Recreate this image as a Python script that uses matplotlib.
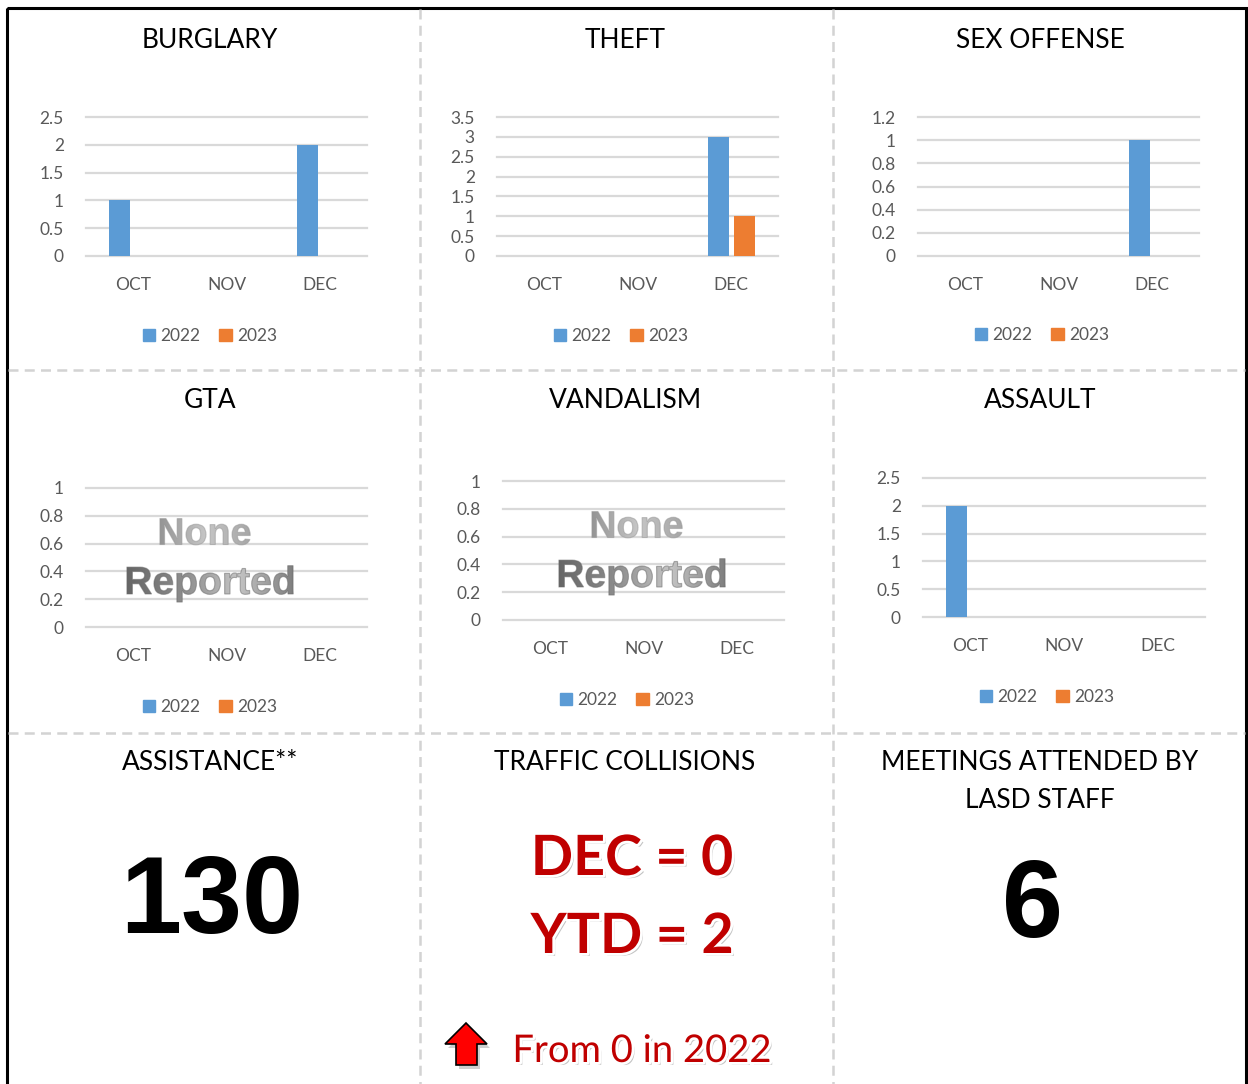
import matplotlib
matplotlib.use("Agg")
import numpy as np
import matplotlib.pyplot as plt
import matplotlib.patheffects as pe
from matplotlib.patches import Patch, Rectangle, Polygon, PathPatch
from matplotlib.ticker import FuncFormatter, MultipleLocator
from matplotlib.textpath import TextPath
from matplotlib.font_manager import FontProperties
from matplotlib.transforms import Affine2D
from matplotlib.colors import LinearSegmentedColormap

# Daten
months = ["OCT", "NOV", "DEC"]
years = ["2022", "2023"]

burglary_2022 = [1, 0, 2]
burglary_2023 = [0, 0, 0]
theft_2022 = [0, 0, 3]
theft_2023 = [0, 0, 1]
sex_2022 = [0, 0, 1]
sex_2023 = [0, 0, 0]
gta_2022 = [0, 0, 0]
gta_2023 = [0, 0, 0]
vandal_2022 = [0, 0, 0]
vandal_2023 = [0, 0, 0]
assault_2022 = [2, 0, 0]
assault_2023 = [0, 0, 0]

assistance = "130"
meetings = "6"
traffic_dec = "DEC = 0"
traffic_ytd = "YTD = 2"
traffic_note = "From 0 in 2022"

W, H = 1248, 1084
C22, C23 = "#5B9BD5", "#ED7D31"
GRAY = "#595959"
FONT = "Lato"

fig = plt.figure(figsize=(W / 100, H / 100), dpi=100)


def pixel_axes(z):
    a = fig.add_axes([0, 0, 1, 1], zorder=z)
    a.axis("off")
    a.patch.set_alpha(0)
    return a


bg = pixel_axes(-1)   # Rahmen, Texte
fg = pixel_axes(10)   # "None Reported" über den Gitterlinien

# Rahmen und gestrichelte Trennlinien
bg.add_patch(Rectangle((7, 8), 1239, 1090, fill=False, lw=2.2, ec="black"))
dash = dict(color="#d3d3d3", lw=1.8, ls=(0, (4, 2.5)))
for x in (420, 833):
    bg.plot([x, x], [9, H], **dash)
for y in (370, 733):
    bg.plot([8, 1245], [y, y], **dash)


def px_axes(x0, y0, x1, y1):
    return fig.add_axes([x0 / W, 1 - y1 / H, (x1 - x0) / W, (y1 - y0) / H])


def grad_text(s, cx, cy, cap, cols):
    # Text mit Farbverlauf (WordArt-Ersatz)
    fp = FontProperties(family="Liberation Sans", weight="bold")
    tp = TextPath((0, 0), s, size=1, prop=fp)
    ext = tp.get_extents()
    k = cap / 0.716
    x0 = cx - (ext.x0 + ext.width / 2) * k
    path = Affine2D().scale(k, -k).translate(x0, cy + cap / 2).transform_path(tp)
    fg.add_patch(PathPatch(path, fc="none", ec=cols[0], lw=0.8, alpha=0.5))
    patch = PathPatch(path, fc="none", ec="none")
    fg.add_patch(patch)
    bb = path.get_extents()
    cmap = LinearSegmentedColormap.from_list("g", cols)
    im = fg.imshow(np.linspace(0, 1, 256).reshape(1, -1), cmap=cmap, aspect="auto",
                   extent=(bb.x0, bb.x1, bb.y1, bb.y0), interpolation="bilinear")
    im.set_clip_path(patch)


def chart(title, tx, ty, box, v22, v23, top, step, legx, legy, none=None):
    bg.text(tx, ty, title, ha="center", va="center", fontsize=19,
            family=FONT, color="black")
    ax = px_axes(*box)
    xs = range(len(months))
    ax.bar([x - 0.14 for x in xs], v22, width=0.225, color=C22)
    ax.bar([x + 0.14 for x in xs], v23, width=0.225, color=C23)
    ax.set_xlim(-0.5, 2.5)
    ax.set_ylim(0, top)
    ax.yaxis.set_major_locator(MultipleLocator(step))
    ax.yaxis.set_major_formatter(FuncFormatter(lambda v, p: "%g" % round(v, 2)))
    ax.set_xticks(list(xs))
    ax.set_xticklabels(months)
    ax.tick_params(length=0, labelsize=12.5, labelcolor=GRAY)
    ax.tick_params(axis="y", pad=16)
    ax.tick_params(axis="x", pad=15)
    for lab in ax.get_xticklabels() + ax.get_yticklabels():
        lab.set_family(FONT)
    ax.grid(axis="y", color="#d9d9d9", lw=1.6)
    ax.set_axisbelow(True)
    for gl in ax.get_ygridlines():
        gl.set_clip_on(False)
    for s in ax.spines.values():
        s.set_visible(False)
    ax.patch.set_alpha(0)
    handles = [Patch(color=C22, label=years[0]), Patch(color=C23, label=years[1])]
    fig.legend(handles=handles, loc="center", bbox_to_anchor=(legx / W, 1 - legy / H),
               ncol=2, frameon=False, prop={"family": FONT, "size": 12.5},
               labelcolor=GRAY, handlelength=0.7, handleheight=0.7,
               handletextpad=0.3, columnspacing=1.1)
    if none:
        (nx, ny), (rx, ry) = none
        grad_text("None", nx, ny, 27, ["#959595", "#c6c6c6", "#a6a6a6"])
        grad_text("Reported", rx, ry, 28, ["#666666", "#8c8c8c", "#c4c4c4", "#7e7e7e"])
    return ax


chart("BURGLARY", 210, 40, (86, 117, 367, 256), burglary_2022, burglary_2023,
      2.5, 0.5, 210, 336)
chart("THEFT", 625, 40, (497, 117, 778, 256), theft_2022, theft_2023,
      3.5, 0.5, 621, 336)
chart("SEX OFFENSE", 1040, 40, (918, 117, 1199, 256), sex_2022, sex_2023,
      1.2, 0.2, 1042, 335)
chart("GTA", 210, 400, (86, 488, 367, 627), gta_2022, gta_2023,
      1.0, 0.2, 210, 707, none=((205, 531), (210, 580)))
chart("VANDALISM", 625, 400, (503, 481, 784, 620), vandal_2022, vandal_2023,
      1.0, 0.2, 627, 700, none=((637, 524), (642, 573)))
chart("ASSAULT", 1040, 400, (923, 478, 1205, 617), assault_2022, assault_2023,
      2.5, 0.5, 1047, 697)

# Untere Reihe
bg.text(210, 762, "ASSISTANCE**", ha="center", va="center", fontsize=19, family=FONT)
bg.text(212, 905, assistance, ha="center", va="center", fontsize=79,
        weight="bold", family="Liberation Sans")

bg.text(625, 762, "TRAFFIC COLLISIONS", ha="center", va="center", fontsize=19, family=FONT)
red_eff = [pe.withSimplePatchShadow(offset=(2, -2), shadow_rgbFace="#888888", alpha=0.5),
           pe.withStroke(linewidth=4, foreground="white")]
bg.text(632, 859, traffic_dec, ha="center", va="center", fontsize=40, weight="bold",
        family=FONT, color="#C00000", path_effects=red_eff)
bg.text(632, 937, traffic_ytd, ha="center", va="center", fontsize=40, weight="bold",
        family=FONT, color="#C00000", path_effects=red_eff)
bg.text(642, 1051, traffic_note, ha="center", va="center", fontsize=27.5,
        family=FONT, color="#C00000", path_effects=red_eff)

arrow = [(466, 1023), (487, 1044), (477, 1044), (477, 1065),
         (456, 1065), (456, 1044), (445, 1044)]
bg.add_patch(Polygon([(x + 3, y + 4) for x, y in arrow], closed=True,
                     fc="#b0b0b0", ec="none", alpha=0.6))
bg.add_patch(Polygon(arrow, closed=True, fc="#ff0000", ec="black", lw=1.2))

bg.text(1040, 762, "MEETINGS ATTENDED BY", ha="center", va="center", fontsize=19, family=FONT)
bg.text(1040, 800, "LASD STAFF", ha="center", va="center", fontsize=19, family=FONT)
bg.text(1032, 909, meetings, ha="center", va="center", fontsize=79,
        weight="bold", family="Liberation Sans")

for a in (bg, fg):
    a.set_xlim(0, W)
    a.set_ylim(H, 0)

fig.savefig("out.png", dpi=100)
